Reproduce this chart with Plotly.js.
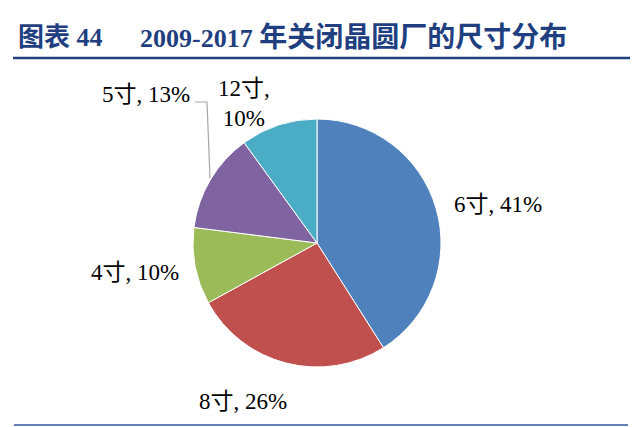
<!DOCTYPE html>
<html>
<head>
<meta charset="utf-8">
<script src="https://cdn.plot.ly/plotly-3.0.1.min.js"></script>
<style>
  html, body { margin: 0; padding: 0; background: #fff; }
  #chart { width: 640px; height: 427px; }
</style>
</head>
<body>
<div id="chart"></div>
<script>
// Closed wafer fabs 2009-2017, share by wafer size
var sizes = ['6寸', '8寸', '4寸', '5寸', '12寸'];
var shares = [41, 26, 10, 13, 10];
var colors = ['#4F81BD', '#C0504D', '#9BBB59', '#8064A2', '#4BACC6'];

// label placement (pixels in the 640x427 frame) and separator per slice
var label_pos = [[498, 204], [243, 401], [135, 272], [146, 94], [244, 103]];
var label_sep = [', ', ', ', ', ', ', ', ',<br>'];

const W = 640;
const H = 427;
const serif = '"Liberation Serif", "Times New Roman", "Noto Sans CJK SC", serif';
const navy = '#1F3F80';

function px(x) { return x / W; }
function py(y) { return 1 - y / H; }

var chart_data = [
  {
    type: 'pie',
    labels: sizes,
    values: shares,
    sort: false,
    direction: 'clockwise',
    rotation: 0,
    textinfo: 'none',
    hoverinfo: 'label+percent',
    marker: {
      colors: colors,
      line: { color: '#ffffff', width: 1 },
    },
    domain: { x: [px(193), px(441)], y: [py(367), py(119)] },
    showlegend: false,
  },
];

var annotations = sizes.map((s, i) => ({
  text: s + label_sep[i] + shares[i] + '%',
  x: px(label_pos[i][0]),
  y: py(label_pos[i][1]),
  xref: 'paper',
  yref: 'paper',
  xanchor: 'center',
  yanchor: 'middle',
  showarrow: false,
  font: { family: serif, size: 23, color: '#000000' },
}));

// figure caption
annotations.push({
  text: '<b>图表 44</b>',
  x: px(16),
  y: py(38),
  xref: 'paper',
  yref: 'paper',
  xanchor: 'left',
  yanchor: 'middle',
  showarrow: false,
  font: { family: serif, size: 26, color: navy },
});
annotations.push({
  text: '<b>2009-2017 <span style="font-size:28px">年关闭晶圆厂的尺寸分布</span></b>',
  x: px(138),
  y: py(38),
  xref: 'paper',
  yref: 'paper',
  xanchor: 'left',
  yanchor: 'middle',
  showarrow: false,
  font: { family: serif, size: 26, color: navy },
});

var chart_layout = {
  width: W,
  height: H,
  margin: { l: 0, r: 0, t: 0, b: 0 },
  paper_bgcolor: '#ffffff',
  plot_bgcolor: '#ffffff',
  annotations: annotations,
  shapes: [
    // rule under the caption
    {
      type: 'line', xref: 'paper', yref: 'paper',
      x0: px(13), x1: px(630), y0: py(58), y1: py(58),
      line: { color: navy, width: 2.5 },
    },
    // bottom rule
    {
      type: 'line', xref: 'paper', yref: 'paper',
      x0: px(14), x1: px(628), y0: py(425), y1: py(425),
      line: { color: '#2B5797', width: 1.5 },
    },
    // leader line for the 5寸 label
    {
      type: 'path', xref: 'paper', yref: 'paper',
      path: 'M ' + px(195) + ',' + py(102) + ' L ' + px(207) + ',' + py(102) +
        ' L ' + px(210) + ',' + py(178),
      line: { color: '#A6A6A6', width: 1.2 },
    },
  ],
};

Plotly.newPlot('chart', chart_data, chart_layout, { staticPlot: true });
</script>
</body>
</html>
